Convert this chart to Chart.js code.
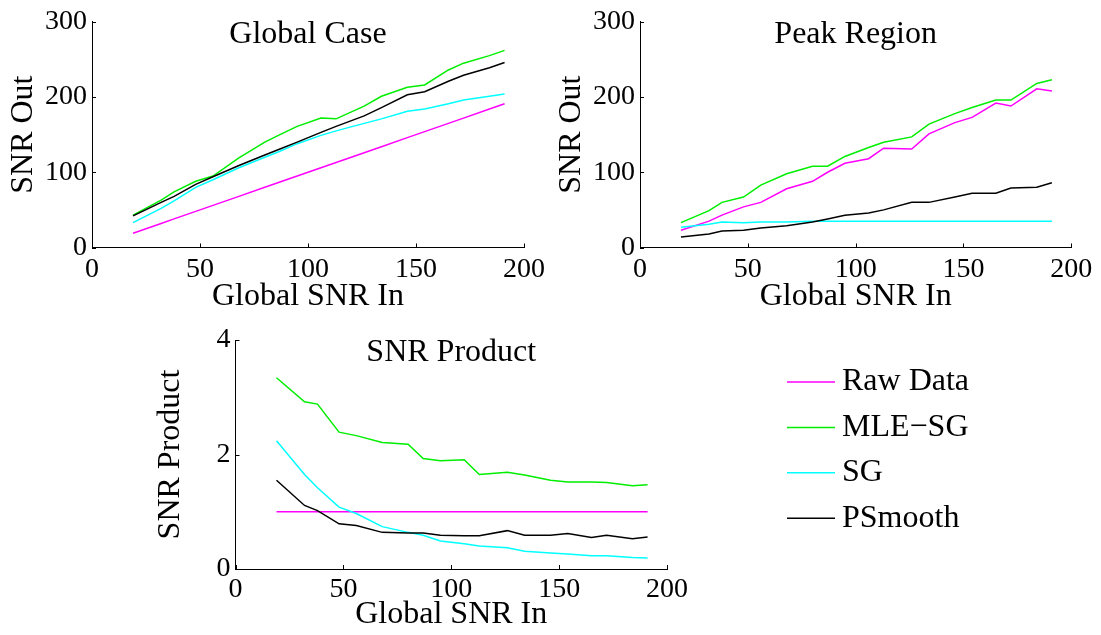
<!DOCTYPE html>
<html>
<head>
<meta charset="utf-8">
<title>SNR comparison</title>
<script src="https://cdn.jsdelivr.net/npm/chart.js@4.4.0/dist/chart.umd.min.js"></script>
<style>
  html, body { margin: 0; padding: 0; background: #ffffff; }
  #wrap { position: relative; width: 1101px; height: 635px; overflow: hidden; }
  #wrap canvas { position: absolute; left: 0; top: 0; }
</style>
</head>
<body>
<div id="wrap">
  <canvas id="cGlobal" width="1101" height="635"></canvas>
  <canvas id="cPeak" width="1101" height="635"></canvas>
  <canvas id="cProduct" width="1101" height="635"></canvas>
</div>
<script>
// Input SNR levels shared by every panel
const snrIn = [19, 32, 38, 48, 56, 68, 80, 87, 95, 106, 113, 126, 134, 146, 154, 165, 172, 184, 191];

// Global case: output SNR
const globalRaw     = [19, 32, 38, 48, 56, 68, 80, 87, 95, 106, 113, 126, 134, 146, 154, 165, 172, 184, 191];
const globalMleSg   = [43, 63, 74, 88, 95, 119, 140, 150, 161, 172, 171, 188, 201, 213, 216, 236, 245, 255, 262];
const globalSg      = [33, 52, 62, 80, 90, 106, 120, 128, 138, 149, 155, 165, 171, 181, 184, 191, 196, 201, 204];
const globalPSmooth = [42, 60, 68, 84, 94, 109, 123, 131, 140, 153, 161, 175, 186, 203, 207, 221, 229, 239, 246];

// Peak region: output SNR
const peakRaw     = [23, 35, 43, 54, 60, 78, 88, 100, 112, 118, 132, 131, 151, 166, 173, 192, 188, 211, 208];
const peakMleSg   = [33, 49, 60, 67, 83, 98, 108, 108, 121, 133, 140, 147, 164, 178, 186, 196, 196, 218, 223];
const peakSg      = [27, 31, 34, 33, 34, 34, 35, 35, 35, 35, 35, 35, 35, 35, 35, 35, 35, 35, 35];
const peakPSmooth = [14, 18, 22, 23, 26, 29, 34, 38, 43, 46, 50, 60, 60, 67, 72, 72, 79, 80, 86];

// SNR product
const prodRaw     = [1, 1, 1, 1, 1, 1, 1, 1, 1, 1, 1, 1, 1, 1, 1, 1, 1, 1, 1];
const prodMleSg   = [3.34, 2.92, 2.88, 2.39, 2.33, 2.21, 2.18, 1.93, 1.89, 1.91, 1.65, 1.69, 1.64, 1.55, 1.52, 1.52, 1.51, 1.455, 1.47];
const prodSg      = [2.24, 1.65, 1.42, 1.08, 0.97, 0.74, 0.64, 0.59, 0.49, 0.44, 0.40, 0.37, 0.31, 0.28, 0.26, 0.23, 0.23, 0.20, 0.19];
const prodPSmooth = [1.55, 1.11, 1.02, 0.79, 0.76, 0.64, 0.63, 0.63, 0.59, 0.58, 0.58, 0.67, 0.59, 0.59, 0.62, 0.55, 0.59, 0.53, 0.56];

// Series names and colours
const seriesNames  = ['Raw Data', 'MLE\u2212SG', 'SG', 'PSmooth'];
const seriesColors = ['#ff00ff', '#00ee00', '#00ffff', '#000000'];

// Axis tick values
const xTicks = [0, 50, 100, 150, 200];
const snrTicks = [0, 100, 200, 300];
const productTicks = [0, 2, 4];

const FONT = '"Liberation Serif", "Times New Roman", serif';

// Small inward tick marks on both axes
const innerTicks = {
  id: 'innerTicks',
  afterDraw(chart) {
    const { ctx, chartArea, scales } = chart;
    const len = 4;
    ctx.save();
    ctx.strokeStyle = '#000';
    ctx.lineWidth = 1;
    scales.x.ticks.forEach(t => {
      const px = Math.round(scales.x.getPixelForValue(t.value)) + 0.5;
      ctx.beginPath();
      ctx.moveTo(px, chartArea.bottom);
      ctx.lineTo(px, chartArea.bottom - len);
      ctx.stroke();
    });
    scales.y.ticks.forEach(t => {
      const py = Math.round(scales.y.getPixelForValue(t.value)) + 0.5;
      ctx.beginPath();
      ctx.moveTo(chartArea.left, py);
      ctx.lineTo(chartArea.left + len, py);
      ctx.stroke();
    });
    ctx.restore();
  }
};

// Panel title drawn just inside the top of the plot area
const panelTitle = {
  id: 'panelTitle',
  afterDraw(chart, args, opts) {
    if (!opts || !opts.text) return;
    const { ctx, chartArea } = chart;
    ctx.save();
    ctx.font = '32px ' + FONT;
    ctx.fillStyle = '#000';
    ctx.textAlign = 'center';
    ctx.textBaseline = 'middle';
    ctx.fillText(opts.text, (chartArea.left + chartArea.right) / 2, chartArea.top + opts.offset);
    ctx.restore();
  }
};

// Legend listed beside the product panel
const sideLegend = {
  id: 'sideLegend',
  afterDraw(chart, args, opts) {
    if (!opts || !opts.show) return;
    const { ctx } = chart;
    ctx.save();
    ctx.font = '32px ' + FONT;
    ctx.fillStyle = '#000';
    ctx.textAlign = 'left';
    ctx.textBaseline = 'middle';
    seriesNames.forEach((name, i) => {
      const y = opts.top + i * opts.rowGap;
      ctx.strokeStyle = seriesColors[i];
      ctx.lineWidth = 1.5;
      ctx.beginPath();
      ctx.moveTo(opts.left, y);
      ctx.lineTo(opts.left + opts.lineLen, y);
      ctx.stroke();
      ctx.fillText(name, opts.left + opts.lineLen + opts.gap, y);
    });
    ctx.restore();
  }
};

function makeDatasets(seriesList) {
  return seriesList.map((vals, i) => ({
    label: seriesNames[i],
    data: snrIn.map((x, k) => ({ x: x, y: vals[k] })),
    borderColor: seriesColors[i],
    backgroundColor: seriesColors[i],
    borderWidth: 1.5,
    pointRadius: 0,
    tension: 0,
    fill: false,
    order: seriesList.length - i
  }));
}

function makeChart(canvasId, cfg) {
  const tickFont = { family: FONT, size: 28 };
  const titleFont = { family: FONT, size: 32 };
  return new Chart(document.getElementById(canvasId), {
    type: 'line',
    data: { datasets: makeDatasets(cfg.series) },
    options: {
      responsive: false,
      animation: false,
      devicePixelRatio: 1,
      layout: { padding: cfg.padding },
      plugins: {
        legend: { display: false },
        tooltip: { enabled: false },
        panelTitle: { text: cfg.title, offset: 13 },
        sideLegend: cfg.legend || { show: false }
      },
      scales: {
        x: {
          type: 'linear',
          min: 0,
          max: 200,
          afterBuildTicks: s => { s.ticks = xTicks.map(v => ({ value: v })); },
          ticks: { font: tickFont, color: '#000', padding: cfg.xTickPad, maxRotation: 0, autoSkip: false },
          grid: { display: false, drawTicks: false },
          border: { display: true, color: '#000', width: 1 },
          title: { display: true, text: 'Global SNR In', font: titleFont, color: '#000', padding: { top: 0, bottom: cfg.xTitlePad } },
          afterFit: s => { s.height = cfg.xHeight; }
        },
        y: {
          type: 'linear',
          min: cfg.yTicks[0],
          max: cfg.yTicks[cfg.yTicks.length - 1],
          afterBuildTicks: s => { s.ticks = cfg.yTicks.map(v => ({ value: v })); },
          ticks: { font: tickFont, color: '#000', padding: 5, autoSkip: false },
          grid: { display: false, drawTicks: false },
          border: { display: true, color: '#000', width: 1 },
          title: { display: true, text: cfg.yTitle, font: titleFont, color: '#000', padding: { top: cfg.yTitlePad, bottom: 0 } },
          afterFit: s => { s.width = 92; }
        }
      }
    },
    plugins: [innerTicks, panelTitle, sideLegend]
  });
}

makeChart('cGlobal', {
  series: [globalRaw, globalMleSg, globalSg, globalPSmooth],
  title: 'Global Case',
  yTitle: 'SNR Out',
  yTicks: snrTicks,
  padding: { left: 0, top: 20, right: 577, bottom: 317.5 },
  xHeight: 70,
  xTickPad: 5,
  xTitlePad: 2,
  yTitlePad: 4
});

makeChart('cPeak', {
  series: [peakRaw, peakMleSg, peakSg, peakPSmooth],
  title: 'Peak Region',
  yTitle: 'SNR Out',
  yTicks: snrTicks,
  padding: { left: 548, top: 20, right: 29.7, bottom: 317.5 },
  xHeight: 70,
  xTickPad: 5,
  xTitlePad: 2,
  yTitlePad: 4
});

makeChart('cProduct', {
  series: [prodRaw, prodMleSg, prodSg, prodPSmooth],
  title: 'SNR Product',
  yTitle: 'SNR Product',
  yTicks: productTicks,
  padding: { left: 143.5, top: 340, right: 434, bottom: 0 },
  xHeight: 66,
  xTickPad: 4,
  xTitlePad: 1,
  yTitlePad: 8,
  legend: { show: true, left: 787, top: 382, rowGap: 45.4, lineLen: 48, gap: 7 }
});
</script>
</body>
</html>
